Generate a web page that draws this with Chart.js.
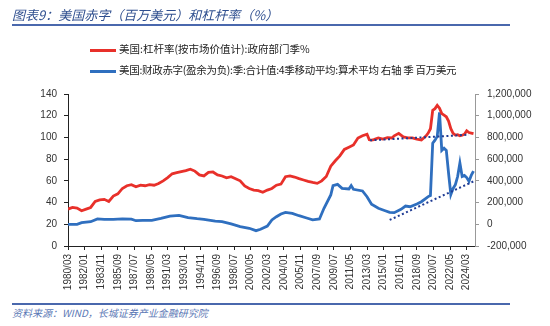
<!DOCTYPE html>
<html lang="zh">
<head>
<meta charset="UTF-8">
<title>美国赤字和杠杆率</title>
<script src="https://cdn.jsdelivr.net/npm/chart.js"></script>
<style>
    body { margin: 0; background: #fff; font-family: 'Noto Sans CJK SC', sans-serif; }
    #page { position: relative; width: 550px; height: 326px; overflow: hidden; }
    #chart { position: absolute; left: 0; top: 0; }
    .title { position: absolute; left: 12px; top: 5px; font-size: 13px; font-style: italic; color: #2f4f8f; white-space: nowrap; }
    .rule { position: absolute; left: 12px; width: 498px; height: 2px; background: #4a68ad; }
    .legend { position: absolute; left: 90px; font-size: 10.5px; color: #222; white-space: nowrap; }
    .legend i { display: inline-block; width: 26px; height: 3px; vertical-align: middle; margin-right: 3px; }
    .source { position: absolute; left: 12px; top: 305px; font-size: 10px; font-style: italic; color: #5b78b5; white-space: nowrap; }
</style>
</head>
<body>
<div id="page">
    <canvas id="chart" width="550" height="300"></canvas>
    <div class="title">图表9：美国赤字（百万美元）和杠杆率（%）</div>
    <div class="rule" style="top:24px"></div>
    <div class="legend" style="top:41px"><i style="background:#e8302a"></i>美国:杠杆率(按市场价值计):政府部门季%</div>
    <div class="legend" style="top:62px; letter-spacing:-0.3px"><i style="background:#2f6fbf"></i>美国:财政赤字(盈余为负):季:合计值:4季移动平均:算术平均 右轴 季 百万美元</div>
    <div class="rule" style="top:303px"></div>
    <div class="source">资料来源：WIND，长城证券产业金融研究院</div>
</div>

<script>
// x tick labels (every 22 months)
const tickLabels = ["1980/03", "1982/01", "1983/11", "1985/09", "1987/07", "1989/05", "1991/03", "1993/01",
    "1994/11", "1996/09", "1998/07", "2000/05", "2002/03", "2004/01", "2005/11", "2007/09", "2009/07",
    "2011/05", "2013/03", "2015/01", "2016/11", "2018/09", "2020/07", "2022/05", "2024/03"];

// leverage ratio, government sector (%), left axis
const redDates = ["1980/03", "1980/09", "1981/03", "1981/09", "1982/03", "1982/09", "1983/03", "1983/09",
    "1984/03", "1984/09", "1985/03", "1985/09", "1986/03", "1986/09", "1987/03", "1987/09", "1988/03",
    "1988/09", "1989/03", "1989/09", "1990/03", "1990/09", "1991/03", "1991/09", "1992/03", "1992/09",
    "1993/03", "1993/09", "1994/03", "1994/09", "1995/03", "1995/09", "1996/03", "1996/09", "1997/03",
    "1997/09", "1998/03", "1998/09", "1999/03", "1999/09", "2000/03", "2000/09", "2001/03", "2001/09",
    "2002/03", "2002/09", "2003/03", "2003/09", "2004/03", "2004/09", "2005/03", "2005/09", "2006/03",
    "2006/09", "2007/03", "2007/09", "2008/03", "2008/09", "2009/03", "2009/09", "2010/03", "2010/09",
    "2011/03", "2011/09", "2012/03", "2012/09", "2013/03", "2013/06", "2013/09", "2013/12", "2014/06",
    "2014/12", "2015/06", "2015/12", "2016/03", "2016/09", "2017/03", "2017/09", "2018/03", "2018/09",
    "2019/03", "2019/09", "2019/12", "2020/03", "2020/06", "2020/09", "2020/12", "2021/03", "2021/06",
    "2021/09", "2021/12", "2022/03", "2022/06", "2022/09", "2022/12", "2023/03", "2023/06", "2023/09",
    "2023/12", "2024/03", "2024/06", "2024/09", "2024/12"];
const redValues = [34, 35.5, 35, 32.5, 34, 35.5, 41, 42.5,
    43, 41, 46, 48, 53, 55.5, 56.5, 54.5, 56,
    55.5, 56.5, 56, 57.5, 60, 63, 66.5, 67.5, 68.5,
    69.5, 70.8, 69, 65.5, 64.5, 67.8, 68.2, 65.5, 64.5,
    62.8, 63.8, 62, 60, 55.3, 53, 51.5, 51, 49.5,
    51.5, 53, 56, 57, 63.8, 64.5, 63.5, 62, 60.8,
    59.5, 58.5, 57.7, 60, 64, 73.5, 78.5, 83, 89,
    91, 93, 99.5, 101.5, 103, 97.8, 97.5, 98, 99.5,
    98.5, 99.8, 99.5, 101.5, 103.8, 100.5, 99.5, 99.5, 98.5,
    97.6, 101.3, 104, 108, 125, 126.5, 129.5, 127, 122,
    120.5, 119, 115, 108, 103.8, 102.2, 102.5, 101.5, 102,
    103, 106.2, 104.5, 104, 103.5];

// fiscal deficit, 4-quarter moving average (million USD), right axis
const blueDates = ["1980/03", "1981/03", "1981/09", "1982/09", "1983/06", "1984/03", "1985/03", "1986/03",
    "1987/03", "1987/09", "1988/06", "1989/06", "1990/06", "1991/06", "1992/06", "1993/06", "1994/06",
    "1995/03", "1996/06", "1997/03", "1998/03", "1999/03", "2000/03", "2000/12", "2001/06", "2002/03",
    "2002/09", "2003/03", "2003/09", "2004/03", "2004/12", "2005/09", "2006/06", "2007/03", "2007/12",
    "2008/06", "2009/03", "2009/06", "2009/12", "2010/06", "2011/03", "2011/06", "2011/09", "2012/09",
    "2013/03", "2013/09", "2014/06", "2015/03", "2015/09", "2016/03", "2016/12", "2017/06", "2017/12",
    "2018/09", "2019/03", "2019/09", "2019/12", "2020/03", "2020/06", "2020/09", "2020/12", "2021/03",
    "2021/06", "2021/09", "2021/12", "2022/03", "2022/06", "2022/09", "2022/12", "2023/03", "2023/06",
    "2023/09", "2023/12", "2024/03", "2024/06", "2024/09", "2024/12"];
const blueValues = [0, 0, 15000, 24000, 50000, 46000, 46000, 50000,
    48000, 33000, 36000, 36000, 55000, 76000, 82000, 62000, 52000,
    46000, 30000, 24000, 3000, -22000, -37000, -59000, -46000, -16000,
    40000, 70000, 95000, 110000, 100000, 79000, 60000, 40000, 49000,
    147000, 270000, 356000, 368000, 331000, 325000, 356000, 322000, 307000,
    254000, 184000, 147000, 125000, 110000, 107000, 138000, 168000, 162000,
    187000, 208000, 239000, 255000, 265000, 746000, 775000, 810000, 1030000,
    680000, 700000, 680000, 470000, 275000, 330000, 365000, 440000, 565000,
    440000, 450000, 430000, 395000, 450000, 490000];

// dotted trend lines
const redTrendDates = ["2013/07", "2024/06"];
const redTrendValues = [97.3, 102.5];
const blueTrendDates = ["2015/09", "2024/12"];
const blueTrendValues = [40000, 395000];

function monthIndex(d) {
    const [y, m] = d.split('/').map(Number);
    return (y - 1980) * 12 + (m - 3);
}

function toPoints(dates, values) {
    return dates.map((d, i) => ({ x: monthIndex(d), y: values[i] }));
}

const tickFont = { family: 'Liberation Sans', size: 10 };

new Chart(document.getElementById('chart'), {
    type: 'line',
    data: {
        datasets: [
            { data: toPoints(redTrendDates, redTrendValues), yAxisID: 'y', borderColor: '#1f3b93', borderWidth: 2, borderDash: [2, 2.5] },
            { data: toPoints(blueTrendDates, blueTrendValues), yAxisID: 'y1', borderColor: '#1f3b93', borderWidth: 2, borderDash: [2, 2.5] },
            { data: toPoints(redDates, redValues), yAxisID: 'y', borderColor: '#e8302a', borderWidth: 2.8 },
            { data: toPoints(blueDates, blueValues), yAxisID: 'y1', borderColor: '#2f6fbf', borderWidth: 2.8 }
        ]
    },
    options: {
        responsive: false,
        animation: false,
        devicePixelRatio: 1,
        layout: { padding: { top: 94, left: 0, right: 0, bottom: 0 } },
        elements: { point: { radius: 0 }, line: { tension: 0 } },
        plugins: { legend: { display: false }, tooltip: { enabled: false } },
        scales: {
            x: {
                type: 'linear',
                min: 0,
                max: 539,
                afterBuildTicks: s => { s.ticks = tickLabels.map((_, i) => ({ value: i * 22 })); },
                afterFit: s => { s.height = 54; },
                grid: { drawOnChartArea: false, tickLength: 4, color: '#222' },
                border: { color: '#222' },
                ticks: {
                    autoSkip: false, minRotation: 90, maxRotation: 90, padding: 4,
                    font: tickFont, color: '#333',
                    callback: v => tickLabels[Math.round(v / 22)]
                }
            },
            y: {
                position: 'left',
                min: 0, max: 140,
                afterFit: s => { s.width = 68; },
                grid: { drawOnChartArea: false, tickLength: 4, color: '#222' },
                border: { color: '#222' },
                ticks: { stepSize: 20, padding: 7, font: tickFont, color: '#333' }
            },
            y1: {
                position: 'right',
                min: -200000, max: 1200000,
                afterFit: s => { s.width = 75; },
                grid: { drawOnChartArea: false, tickLength: 4, color: '#999' },
                border: { color: '#999' },
                ticks: {
                    stepSize: 200000, padding: 8, font: tickFont, color: '#333',
                    callback: v => v.toLocaleString('en-US')
                }
            }
        }
    }
});
</script>
</body>
</html>
